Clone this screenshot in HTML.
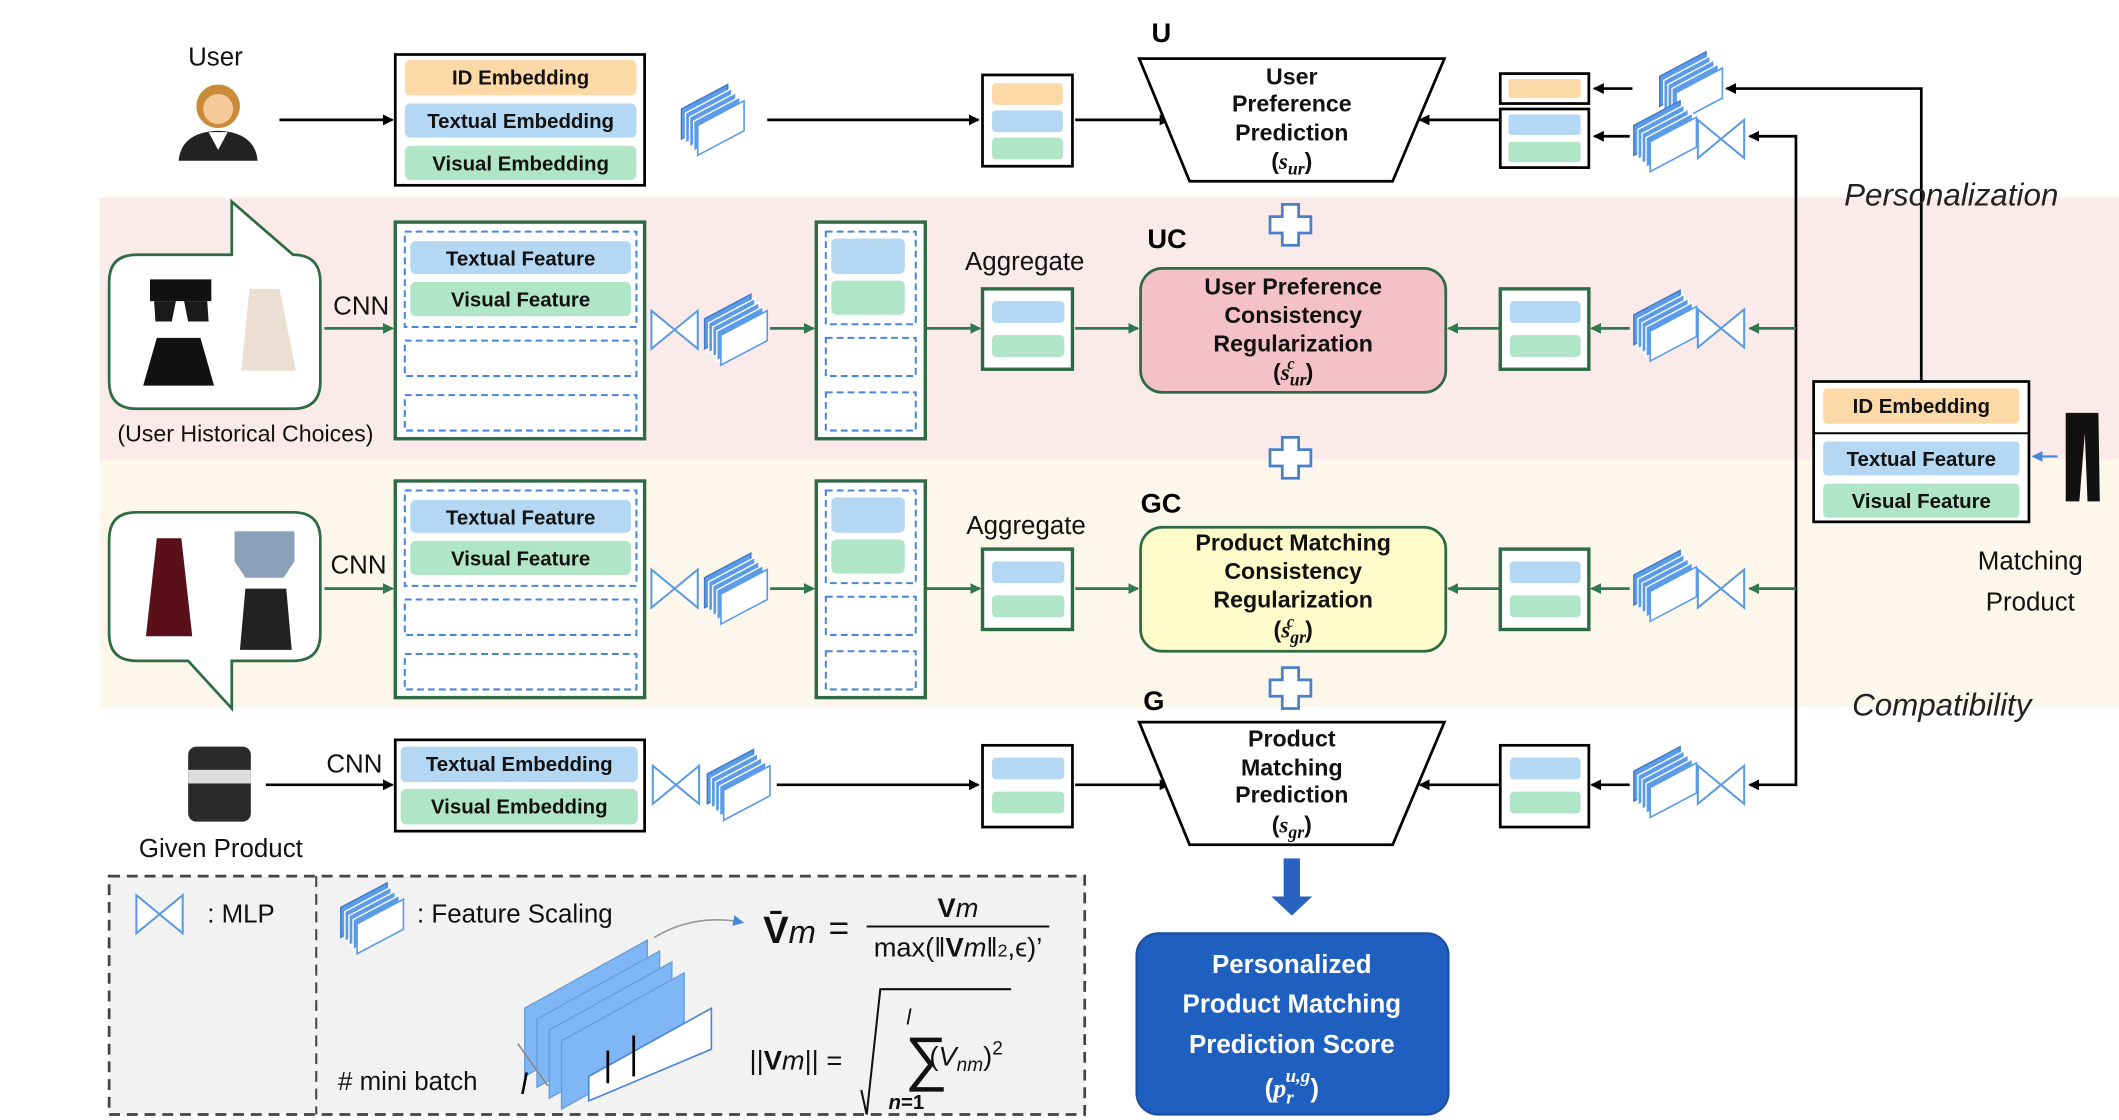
<!DOCTYPE html>
<html><head><meta charset="utf-8"><style>
html,body{margin:0;padding:0;background:#fff}
svg{display:block}
text{font-family:"Liberation Sans",sans-serif}
.pl{font-size:15px;font-weight:bold;fill:#111;text-anchor:middle}
.bt{font-size:17px;font-weight:bold;fill:#111;text-anchor:middle}
.lb{font-size:19px;fill:#111}
</style></head><body>
<svg width="2119" height="1120" viewBox="0 0 1555 822" xmlns="http://www.w3.org/2000/svg">
<defs>
<marker id="ab" markerWidth="8" markerHeight="8" refX="7" refY="4" orient="auto" markerUnits="userSpaceOnUse"><path d="M0,0 L8,4 L0,8 z" fill="#000"/></marker>
<marker id="ag" markerWidth="8" markerHeight="8" refX="7" refY="4" orient="auto" markerUnits="userSpaceOnUse"><path d="M0,0 L8,4 L0,8 z" fill="#2e7a4e"/></marker>
<marker id="au" markerWidth="8" markerHeight="8" refX="7" refY="4" orient="auto" markerUnits="userSpaceOnUse"><path d="M0,0 L8,4 L0,8 z" fill="#4a86d8"/></marker>
<g id="mlp"><path d="M0,0 L17,14 L0,28 Z M34,0 L17,14 L34,28 Z" fill="#fff" stroke="#5b9be0" stroke-width="1.5"/></g>
<g id="fs">
<path d="M6,40 L6,18 L40,0 L40,22 Z" fill="#5b9be8" stroke="#3e78c8" stroke-width="1"/>
<path d="M9,43 L9,21 L43,3 L43,25 Z" fill="#5b9be8" stroke="#fff" stroke-width="1"/>
<path d="M12,46 L12,24 L46,6 L46,28 Z" fill="#5b9be8" stroke="#fff" stroke-width="1"/>
<path d="M15,49 L15,27 L49,9 L49,31 Z" fill="#5b9be8" stroke="#fff" stroke-width="1"/>
<path d="M18,52 L18,30 L52,12 L52,34 Z" fill="#fff" stroke="#5b9be8" stroke-width="1.2"/>
</g>
</defs>

<rect x="73" y="145" width="1482" height="192" fill="#fbeaea"/>
<rect x="73" y="337" width="1482" height="182" fill="#fdf6ea"/>

<text x="158" y="48" class="lb" text-anchor="middle">User</text>
<circle cx="160" cy="78" r="16" fill="#c98a3a"/>
<circle cx="160" cy="80" r="11" fill="#f5c99a"/>
<path d="M131,118 Q133,97 160,96 Q187,97 189,118 Z" fill="#222"/>
<path d="M153,97 L160,110 L167,97 Z" fill="#fff"/>
<line x1="205" y1="88" x2="288" y2="88" stroke="#000" stroke-width="2" marker-end="url(#ab)"/>

<rect x="290" y="40" width="183" height="96" fill="#fff" stroke="#000" stroke-width="2"/>
<rect x="297" y="44" width="170" height="26" rx="4" fill="#fdd9a8"/><text x="382" y="62" class="pl">ID Embedding</text>
<rect x="297" y="76" width="170" height="25" rx="4" fill="#b4d8f3"/><text x="382" y="94" class="pl">Textual Embedding</text>
<rect x="297" y="107" width="170" height="25" rx="4" fill="#b1e5c7"/><text x="382" y="125" class="pl">Visual Embedding</text>
<use href="#fs" x="494" y="62"/>
<line x1="563" y1="88" x2="718" y2="88" stroke="#000" stroke-width="2" marker-end="url(#ab)"/>
<rect x="721" y="55" width="66" height="67" fill="#fff" stroke="#000" stroke-width="2"/>
<rect x="728" y="61" width="52" height="16" rx="3" fill="#fdd9a8"/>
<rect x="728" y="81" width="52" height="16" rx="3" fill="#b4d8f3"/>
<rect x="728" y="101" width="52" height="16" rx="3" fill="#b1e5c7"/>
<line x1="789" y1="88" x2="858" y2="88" stroke="#000" stroke-width="2" marker-end="url(#ab)"/>
<text x="845" y="31" font-size="20" font-weight="bold">U</text>
<path d="M836,43 L1060,43 L1022,133 L873,133 Z" fill="#fff" stroke="#000" stroke-width="2"/>
<text x="948" y="62" class="bt">User</text>
<text x="948" y="82" class="bt">Preference</text>
<text x="948" y="103" class="bt">Prediction</text>
<text x="948" y="124" class="bt">(<tspan font-family="Liberation Serif" font-style="italic">s<tspan font-size="13" dy="4">ur</tspan></tspan><tspan dy="-4">)</tspan></text>
<line x1="1100" y1="88" x2="1042" y2="88" stroke="#000" stroke-width="2" marker-end="url(#ab)"/>
<rect x="1101" y="54" width="65" height="22" fill="#fff" stroke="#000" stroke-width="2"/>
<rect x="1107" y="58" width="53" height="14" rx="2" fill="#fdd9a8"/>
<rect x="1101" y="80" width="65" height="43" fill="#fff" stroke="#000" stroke-width="2"/>
<rect x="1107" y="84" width="53" height="15" rx="2" fill="#b4d8f3"/>
<rect x="1107" y="104" width="53" height="15" rx="2" fill="#b1e5c7"/>
<line x1="1198" y1="65" x2="1170" y2="65" stroke="#000" stroke-width="2" marker-end="url(#ab)"/>
<line x1="1196" y1="100" x2="1170" y2="100" stroke="#000" stroke-width="2" marker-end="url(#ab)"/>
<use href="#fs" x="1212" y="38"/>
<use href="#fs" x="1193" y="74"/>
<use href="#mlp" x="1246" y="88"/>
<polyline points="1410,280 1410,65 1267,65" fill="none" stroke="#000" stroke-width="2" marker-end="url(#ab)"/>
<line x1="1318" y1="100" x2="1284" y2="100" stroke="#000" stroke-width="2" marker-end="url(#ab)"/>
<line x1="1318" y1="99" x2="1318" y2="577" stroke="#000" stroke-width="2"/>

<text x="1432" y="151" font-size="23" font-style="italic" text-anchor="middle" fill="#222">Personalization</text>
<text x="1425" y="525" font-size="23" font-style="italic" text-anchor="middle" fill="#222">Compatibility</text>

<g fill="#fff" stroke="#4a7fc9" stroke-width="2">
<path d="M941,150 h12 v9 h9 v12 h-9 v9 h-12 v-9 h-9 v-12 h9 z"/>
<path d="M941,321 h12 v9 h9 v12 h-9 v9 h-12 v-9 h-9 v-12 h9 z"/>
<path d="M941,490 h12 v9 h9 v12 h-9 v9 h-12 v-9 h-9 v-12 h9 z"/>
</g>

<path d="M100,187 L170,187 L170,148 L215,187 Q235,187 235,207 L235,280 Q235,300 215,300 L100,300 Q80,300 80,280 L80,207 Q80,187 100,187 Z" fill="#fff" stroke="#2e6b45" stroke-width="2"/>
<path d="M110,205 h45 v16 h-45 z" fill="#111"/><path d="M113,221 h16 l-3,15 h-12 z M135,221 h17 l1,15 h-15 z" fill="#1a1a1a"/>
<path d="M183,212 h22 l12,60 h-40 z" fill="#eadfd1"/>
<path d="M115,248 h32 l10,35 h-52 z" fill="#111"/>
<text x="265" y="231" class="lb" text-anchor="middle">CNN</text>
<line x1="238" y1="241" x2="288" y2="241" stroke="#2e7a4e" stroke-width="2" marker-end="url(#ag)"/>
<rect x="290" y="163" width="183" height="159" fill="#fff" stroke="#2e6b45" stroke-width="2.5"/>
<g fill="none" stroke="#4a86d8" stroke-width="1.5" stroke-dasharray="5,3">
<rect x="297" y="170" width="170" height="70"/><rect x="297" y="250" width="170" height="26"/><rect x="297" y="290" width="170" height="26"/>
</g>
<rect x="301" y="177" width="162" height="24" rx="4" fill="#b4d8f3"/><text x="382" y="195" class="pl">Textual Feature</text>
<rect x="301" y="207" width="162" height="25" rx="4" fill="#b1e5c7"/><text x="382" y="225" class="pl">Visual Feature</text>
<use href="#mlp" x="478" y="228"/><use href="#fs" x="511" y="216"/>
<line x1="565" y1="241" x2="597" y2="241" stroke="#2e7a4e" stroke-width="2" marker-end="url(#ag)"/>
<rect x="599" y="163" width="80" height="159" fill="#fff" stroke="#2e6b45" stroke-width="2.5"/>
<g fill="none" stroke="#4a86d8" stroke-width="1.5" stroke-dasharray="5,3">
<rect x="606" y="170" width="66" height="68"/><rect x="606" y="248" width="66" height="28"/><rect x="606" y="288" width="66" height="28"/>
</g>
<rect x="610" y="175" width="54" height="26" rx="4" fill="#b4d8f3"/><rect x="610" y="206" width="54" height="25" rx="4" fill="#b1e5c7"/>
<line x1="680" y1="241" x2="719" y2="241" stroke="#2e7a4e" stroke-width="2" marker-end="url(#ag)"/>
<text x="752" y="198" class="lb" text-anchor="middle">Aggregate</text>
<rect x="721" y="212" width="66" height="59" fill="#fff" stroke="#2e6b45" stroke-width="2.5"/>
<rect x="728" y="221" width="53" height="16" rx="3" fill="#b4d8f3"/><rect x="728" y="246" width="53" height="16" rx="3" fill="#b1e5c7"/>
<line x1="789" y1="241" x2="835" y2="241" stroke="#2e7a4e" stroke-width="2" marker-end="url(#ag)"/>
<text x="842" y="182" font-size="20" font-weight="bold">UC</text>
<rect x="837" y="197" width="224" height="91" rx="16" fill="#f4c1c8" stroke="#2e6b45" stroke-width="2"/>
<text x="949" y="216" class="bt">User Preference</text>
<text x="949" y="237" class="bt">Consistency</text>
<text x="949" y="258" class="bt">Regularization</text>
<text x="949" y="279" class="bt">(<tspan font-family="Liberation Serif" font-style="italic">s<tspan font-size="13" dy="4">ur</tspan><tspan font-size="12" dx="-14" dy="-12">c</tspan></tspan><tspan dx="8" dy="8">)</tspan></text>
<line x1="1100" y1="241" x2="1063" y2="241" stroke="#2e7a4e" stroke-width="2" marker-end="url(#ag)"/>
<rect x="1101" y="212" width="65" height="59" fill="#fff" stroke="#2e6b45" stroke-width="2.5"/>
<rect x="1108" y="221" width="52" height="16" rx="3" fill="#b4d8f3"/><rect x="1108" y="246" width="52" height="16" rx="3" fill="#b1e5c7"/>
<line x1="1196" y1="241" x2="1168" y2="241" stroke="#2e7a4e" stroke-width="2" marker-end="url(#ag)"/>
<use href="#fs" x="1193" y="213"/><use href="#mlp" x="1246" y="227"/>
<line x1="1318" y1="241" x2="1284" y2="241" stroke="#2e7a4e" stroke-width="2" marker-end="url(#ag)"/>
<text x="180" y="324" font-size="17" text-anchor="middle" fill="#111">(User Historical Choices)</text>

<path d="M100,376 L215,376 Q235,376 235,396 L235,465 Q235,485 215,485 L170,485 L170,520 L138,485 L100,485 Q80,485 80,465 L80,396 Q80,376 100,376 Z" fill="#fff" stroke="#2e6b45" stroke-width="2"/>
<path d="M115,395 h18 l8,72 h-34 z" fill="#5a1018"/>
<path d="M172,390 h44 v22 l-8,12 h-28 l-8,-12 z" fill="#8ba1b8"/>
<path d="M180,432 h30 l4,45 h-38 z" fill="#222"/>
<text x="263" y="421" class="lb" text-anchor="middle">CNN</text>
<line x1="238" y1="432" x2="288" y2="432" stroke="#2e7a4e" stroke-width="2" marker-end="url(#ag)"/>
<rect x="290" y="353" width="183" height="159" fill="#fff" stroke="#2e6b45" stroke-width="2.5"/>
<g fill="none" stroke="#4a86d8" stroke-width="1.5" stroke-dasharray="5,3">
<rect x="297" y="360" width="170" height="70"/><rect x="297" y="440" width="170" height="26"/><rect x="297" y="480" width="170" height="26"/>
</g>
<rect x="301" y="367" width="162" height="24" rx="4" fill="#b4d8f3"/><text x="382" y="385" class="pl">Textual Feature</text>
<rect x="301" y="397" width="162" height="25" rx="4" fill="#b1e5c7"/><text x="382" y="415" class="pl">Visual Feature</text>
<use href="#mlp" x="478" y="418"/><use href="#fs" x="511" y="406"/>
<line x1="565" y1="432" x2="597" y2="432" stroke="#2e7a4e" stroke-width="2" marker-end="url(#ag)"/>
<rect x="599" y="353" width="80" height="159" fill="#fff" stroke="#2e6b45" stroke-width="2.5"/>
<g fill="none" stroke="#4a86d8" stroke-width="1.5" stroke-dasharray="5,3">
<rect x="606" y="360" width="66" height="68"/><rect x="606" y="438" width="66" height="28"/><rect x="606" y="478" width="66" height="28"/>
</g>
<rect x="610" y="365" width="54" height="26" rx="4" fill="#b4d8f3"/><rect x="610" y="396" width="54" height="25" rx="4" fill="#b1e5c7"/>
<line x1="680" y1="432" x2="719" y2="432" stroke="#2e7a4e" stroke-width="2" marker-end="url(#ag)"/>
<text x="753" y="392" class="lb" text-anchor="middle">Aggregate</text>
<rect x="721" y="403" width="66" height="59" fill="#fff" stroke="#2e6b45" stroke-width="2.5"/>
<rect x="728" y="412" width="53" height="16" rx="3" fill="#b4d8f3"/><rect x="728" y="437" width="53" height="16" rx="3" fill="#b1e5c7"/>
<line x1="789" y1="432" x2="835" y2="432" stroke="#2e7a4e" stroke-width="2" marker-end="url(#ag)"/>
<text x="837" y="376" font-size="20" font-weight="bold">GC</text>
<rect x="837" y="387" width="224" height="91" rx="16" fill="#fdfbc9" stroke="#2e6b45" stroke-width="2"/>
<text x="949" y="404" class="bt">Product Matching</text>
<text x="949" y="425" class="bt">Consistency</text>
<text x="949" y="446" class="bt">Regularization</text>
<text x="949" y="468" class="bt">(<tspan font-family="Liberation Serif" font-style="italic">s<tspan font-size="13" dy="4">gr</tspan><tspan font-size="12" dx="-14" dy="-12">c</tspan></tspan><tspan dx="8" dy="8">)</tspan></text>
<line x1="1100" y1="432" x2="1063" y2="432" stroke="#2e7a4e" stroke-width="2" marker-end="url(#ag)"/>
<rect x="1101" y="403" width="65" height="59" fill="#fff" stroke="#2e6b45" stroke-width="2.5"/>
<rect x="1108" y="412" width="52" height="16" rx="3" fill="#b4d8f3"/><rect x="1108" y="437" width="52" height="16" rx="3" fill="#b1e5c7"/>
<line x1="1196" y1="432" x2="1168" y2="432" stroke="#2e7a4e" stroke-width="2" marker-end="url(#ag)"/>
<use href="#fs" x="1193" y="404"/><use href="#mlp" x="1246" y="418"/>
<line x1="1318" y1="432" x2="1284" y2="432" stroke="#2e7a4e" stroke-width="2" marker-end="url(#ag)"/>

<rect x="1331" y="280" width="158" height="103" fill="#fff" stroke="#000" stroke-width="2"/>
<rect x="1338" y="285" width="144" height="26" rx="3" fill="#fdd9a8"/><text x="1410" y="303" class="pl">ID Embedding</text>
<line x1="1331" y1="318" x2="1489" y2="318" stroke="#000" stroke-width="1.5"/>
<rect x="1338" y="324" width="144" height="25" rx="3" fill="#b4d8f3"/><text x="1410" y="342" class="pl">Textual Feature</text>
<rect x="1338" y="355" width="144" height="25" rx="3" fill="#b1e5c7"/><text x="1410" y="373" class="pl">Visual Feature</text>
<path d="M1516,303 h24 l1,65 h-9 l-2,-50 l-4,50 h-10 z" fill="#111"/>
<line x1="1510" y1="335" x2="1492" y2="335" stroke="#4a86d8" stroke-width="1.5" marker-end="url(#au)"/>
<text x="1490" y="418" class="lb" text-anchor="middle">Matching</text>
<text x="1490" y="448" class="lb" text-anchor="middle">Product</text>

<rect x="138" y="548" width="46" height="55" rx="6" fill="#2a2a2a"/>
<rect x="138" y="565" width="46" height="10" fill="#ddd"/>
<text x="162" y="629" class="lb" text-anchor="middle">Given Product</text>
<text x="260" y="567" class="lb" text-anchor="middle">CNN</text>
<line x1="195" y1="576" x2="288" y2="576" stroke="#000" stroke-width="2" marker-end="url(#ab)"/>
<rect x="290" y="543" width="183" height="67" fill="#fff" stroke="#000" stroke-width="2"/>
<rect x="294" y="548" width="174" height="26" rx="4" fill="#b4d8f3"/><text x="381" y="566" class="pl">Textual Embedding</text>
<rect x="294" y="579" width="174" height="26" rx="4" fill="#b1e5c7"/><text x="381" y="597" class="pl">Visual Embedding</text>
<use href="#mlp" x="479" y="562"/><use href="#fs" x="513" y="550"/>
<line x1="570" y1="576" x2="718" y2="576" stroke="#000" stroke-width="2" marker-end="url(#ab)"/>
<rect x="721" y="547" width="66" height="60" fill="#fff" stroke="#000" stroke-width="2"/>
<rect x="728" y="556" width="53" height="16" rx="3" fill="#b4d8f3"/><rect x="728" y="581" width="53" height="16" rx="3" fill="#b1e5c7"/>
<line x1="789" y1="576" x2="858" y2="576" stroke="#000" stroke-width="2" marker-end="url(#ab)"/>
<text x="839" y="521" font-size="20" font-weight="bold">G</text>
<path d="M836,530 L1060,530 L1022,620 L873,620 Z" fill="#fff" stroke="#000" stroke-width="2"/>
<text x="948" y="548" class="bt">Product</text>
<text x="948" y="569" class="bt">Matching</text>
<text x="948" y="589" class="bt">Prediction</text>
<text x="948" y="611" class="bt">(<tspan font-family="Liberation Serif" font-style="italic">s<tspan font-size="13" dy="4">gr</tspan></tspan><tspan dy="-4">)</tspan></text>
<line x1="1100" y1="576" x2="1042" y2="576" stroke="#000" stroke-width="2" marker-end="url(#ab)"/>
<rect x="1101" y="547" width="65" height="60" fill="#fff" stroke="#000" stroke-width="2"/>
<rect x="1108" y="556" width="52" height="16" rx="3" fill="#b4d8f3"/><rect x="1108" y="581" width="52" height="16" rx="3" fill="#b1e5c7"/>
<line x1="1196" y1="576" x2="1168" y2="576" stroke="#000" stroke-width="2" marker-end="url(#ab)"/>
<use href="#fs" x="1193" y="548"/><use href="#mlp" x="1246" y="562"/>
<line x1="1318" y1="576" x2="1284" y2="576" stroke="#000" stroke-width="2" marker-end="url(#ab)"/>

<path d="M942,630 h12 v28 h9 l-15,14 l-15,-14 h9 z" fill="#2b64c0"/>
<rect x="834" y="685" width="229" height="133" rx="16" fill="#1f5fbf" stroke="#1a4f9f" stroke-width="1.5"/>
<g fill="#fff" font-weight="bold" font-size="19" text-anchor="middle">
<text x="948" y="714">Personalized</text>
<text x="948" y="743">Product Matching</text>
<text x="948" y="773">Prediction Score</text>
<text x="948" y="805">(<tspan font-family="Liberation Serif" font-style="italic">p<tspan font-size="14" dy="5">r</tspan><tspan font-size="14" dx="-6" dy="-16">u,g</tspan></tspan><tspan dy="11">)</tspan></text>
</g>

<rect x="80" y="643" width="716" height="175" fill="#f2f2f2" stroke="#444" stroke-width="2" stroke-dasharray="8,5"/>
<line x1="232" y1="643" x2="232" y2="818" stroke="#444" stroke-width="1.5" stroke-dasharray="8,5"/>
<use href="#mlp" x="100" y="657"/>
<text x="152" y="677" class="lb">: MLP</text>
<use href="#fs" x="244" y="648"/>
<text x="306" y="677" class="lb">: Feature Scaling</text>
<path d="M480,688 Q510,670 545,677" fill="none" stroke="#999" stroke-width="1.2" marker-end="url(#au)"/>
<g fill="#7fb6f5" stroke="#6a9ed8" stroke-width="1">
<path d="M385,740 L475,690 L475,740 L385,790 Z"/>
<path d="M394,748 L484,698 L484,748 L394,798 Z"/>
<path d="M403,756 L493,706 L493,756 L403,806 Z"/>
<path d="M412,764 L502,714 L502,764 L412,814 Z"/>
</g>
<path d="M432,790 L522,740 L522,770 L432,808 Z" fill="#fff" stroke="#4a86d8" stroke-width="1.2"/>
<path d="M446,771 L446,795 M465,760 L465,790" stroke="#000" stroke-width="2"/>
<path d="M380,766 L402,797" stroke="#888" stroke-width="1.2"/>
<text x="248" y="800" class="lb"># mini batch</text>
<text x="382" y="803" font-size="22" font-style="italic" font-family="Liberation Serif">l</text>
<g font-family="Liberation Serif" fill="#111">
<text x="560" y="692" font-size="28" font-weight="bold">V̄<tspan font-weight="normal" font-style="italic" font-size="24">m</tspan></text>
<text x="608" y="690" font-size="26">=</text>
<text x="703" y="673" font-size="20" text-anchor="middle"><tspan font-weight="bold">V</tspan><tspan font-style="italic">m</tspan></text>
<line x1="636" y1="680" x2="770" y2="680" stroke="#111" stroke-width="1.5"/>
<text x="703" y="702" font-size="20" text-anchor="middle">max(‖<tspan font-weight="bold">V</tspan><tspan font-style="italic">m</tspan>‖<tspan font-size="13">2</tspan>,ϵ)’</text>
<text x="550" y="785" font-size="20">||<tspan font-weight="bold">V</tspan><tspan font-style="italic">m</tspan>|| =</text>
<path d="M632,800 L636,818 L646,726 L742,726" fill="none" stroke="#111" stroke-width="1.5"/>
<text x="664" y="792" font-size="44">∑</text>
<text x="665" y="752" font-size="16" font-style="italic">l</text>
<text x="652" y="814" font-size="15" font-weight="bold"><tspan font-style="italic">n</tspan>=1</text>
<text x="682" y="782" font-size="20">(<tspan font-style="italic">V<tspan font-size="14" dy="4">nm</tspan></tspan><tspan dy="-4">)</tspan><tspan font-size="14" dy="-8">2</tspan></text>
</g>
</svg>
</body></html>
